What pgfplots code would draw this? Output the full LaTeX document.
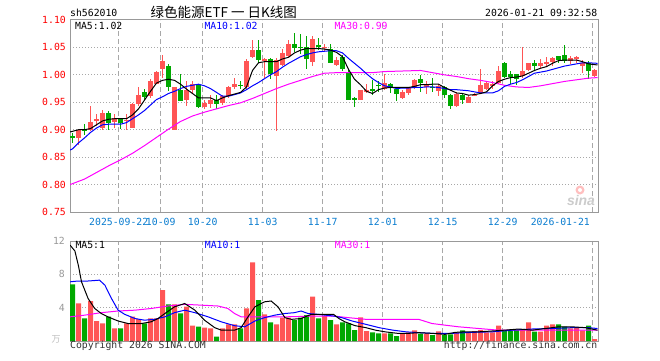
\documentclass[border=0pt]{standalone}
\usepackage{pgfplots}
\pgfplotsset{compat=1.18}
\usepackage{pgfplotstable}
\usepackage{fontspec}
\setmonofont{DejaVu Sans Mono}
\newfontfamily\cjk{Noto Sans CJK SC}
\newfontfamily\sinafont{Liberation Sans}
\definecolor{cred}{HTML}{FF5555}
\definecolor{cgreen}{HTML}{00A800}
\definecolor{cblue}{HTML}{0000FF}
\definecolor{cmag}{HTML}{FF00FF}
\definecolor{cframe}{HTML}{999999}
\definecolor{cgrid}{HTML}{A8A8A8}
\definecolor{cdate}{HTML}{0A7DD0}
\definecolor{cprice}{HTML}{FF0000}
\definecolor{ctext}{HTML}{333333}
\newcommand\mono{\ttfamily\fontsize{9.8bp}{11bp}\selectfont}

% up (red) candles: index, open, high, low, close, volume
\pgfplotstableread{
i O H L C V
1 0.884 0.901 0.873 0.900 4.52
3 0.900 0.943 0.897 0.914 4.8
4 0.917 0.929 0.906 0.919 2.4
5 0.904 0.936 0.900 0.930 2.12
7 0.914 0.928 0.903 0.921 1.52
9 0.916 0.928 0.899 0.918 2.12
10 0.904 0.949 0.903 0.946 2.92
11 0.946 0.977 0.943 0.964 2.64
13 0.961 0.992 0.958 0.989 2.72
14 0.984 1.007 0.983 1.005 2.72
15 1.011 1.037 0.995 1.025 6.12
17 0.900 0.978 0.899 0.977 4.4
19 0.955 0.989 0.943 0.973 4.12
20 0.973 0.989 0.967 0.984 1.84
22 0.941 0.955 0.937 0.949 1.6
23 0.947 0.964 0.939 0.955 1.52
25 0.948 0.964 0.945 0.961 1.52
26 0.961 0.980 0.958 0.977 2.0
27 0.977 0.995 0.974 0.983 2.0
29 0.978 1.028 0.975 1.026 3.92
30 1.033 1.063 1.030 1.045 9.44
32 1.026 1.031 0.995 1.029 3.2
34 0.998 1.030 0.898 1.027 2.0
35 1.018 1.047 1.016 1.039 2.8
36 1.035 1.063 1.032 1.056 2.8
40 1.024 1.071 1.016 1.065 5.32
42 1.049 1.056 1.044 1.051 3.04
44 1.018 1.032 1.016 1.027 2.0
48 0.955 0.973 0.954 0.972 2.84
49 0.969 0.983 0.967 0.973 1.2
52 0.975 1.002 0.973 0.986 0.92
55 0.957 0.972 0.956 0.969 0.92
56 0.967 0.978 0.964 0.977 1.04
57 0.977 0.992 0.974 0.990 1.28
59 0.977 0.988 0.966 0.981 0.88
61 0.970 0.983 0.961 0.980 1.16
64 0.943 0.968 0.941 0.966 1.04
66 0.949 0.963 0.948 0.959 1.04
67 0.962 0.967 0.961 0.964 1.2
68 0.967 1.010 0.965 0.982 1.32
69 0.975 0.989 0.973 0.986 1.04
70 0.981 0.989 0.974 0.983 1.04
71 0.986 1.016 0.984 1.007 1.84
75 0.998 1.051 0.995 1.007 1.44
76 1.008 1.022 1.007 1.021 2.24
78 1.016 1.029 1.013 1.022 1.12
79 1.019 1.032 1.016 1.024 1.84
80 1.024 1.033 1.016 1.030 2.0
83 1.026 1.035 1.019 1.030 1.52
84 1.029 1.035 1.022 1.033 1.6
85 1.016 1.027 1.004 1.022 1.28
87 0.998 1.010 0.996 1.008 0.24
}\upTab

% down (green) candles
\pgfplotstableread{
i O H L C V
0 0.888 0.894 0.876 0.885 6.8
2 0.901 0.910 0.891 0.899 2.72
6 0.930 0.934 0.900 0.912 2.92
8 0.920 0.922 0.902 0.913 1.52
12 0.969 0.974 0.955 0.960 2.12
16 1.016 1.019 0.970 0.978 4.4
18 0.973 1.001 0.952 0.953 3.32
21 0.981 0.984 0.939 0.941 1.72
24 0.955 0.963 0.937 0.946 0.52
28 0.982 0.988 0.974 0.980 1.52
31 1.045 1.063 1.022 1.027 4.92
33 1.029 1.031 0.992 1.001 2.24
37 1.056 1.077 1.041 1.049 2.52
38 1.051 1.075 1.038 1.049 2.8
39 1.050 1.070 1.010 1.029 3.12
41 1.054 1.067 1.045 1.052 2.72
43 1.047 1.056 1.021 1.022 2.52
45 1.033 1.036 1.007 1.010 2.24
46 1.004 1.008 0.954 0.955 2.12
47 0.958 0.959 0.941 0.954 1.32
50 0.974 0.990 0.964 0.972 1.04
51 0.982 0.989 0.969 0.980 0.92
53 0.983 0.986 0.967 0.977 0.92
54 0.975 0.977 0.953 0.966 0.6
58 0.992 1.000 0.969 0.986 0.88
60 0.978 0.995 0.969 0.976 0.72
62 0.977 0.980 0.958 0.963 0.72
63 0.963 0.966 0.937 0.943 0.8
65 0.964 0.966 0.946 0.955 1.28
72 1.021 1.023 0.994 0.996 1.2
73 1.001 1.007 0.984 0.997 1.2
74 1.001 1.002 0.981 0.992 1.32
77 1.021 1.027 1.007 1.016 1.12
81 1.035 1.035 1.021 1.027 2.0
82 1.036 1.055 1.022 1.026 1.72
86 1.022 1.025 0.992 1.007 1.84
}\downTab

\pgfplotsset{
  kbase/.style={
    scale only axis, width=528bp, xmin=-0.417, xmax=87.583,
    axis line style={draw=cframe, line width=1bp},
    tick style={draw=none}, major tick length=0pt,
    xmajorgrids, ymajorgrids,
    x grid style={draw=cgrid, line width=1bp, dash pattern=on 5bp off 3bp},
    y grid style={draw=cgrid, line width=1bp, dash pattern=on 1bp off 2bp},
  },
  wick/.style={draw=none, mark=none, forget plot,
    error bars/.cd, y dir=both, y explicit, error mark=none,
    error bar style={draw=#1, line width=1bp}},
  body/.style={draw=none, mark=none, forget plot,
    error bars/.cd, y dir=both, y explicit, error mark=none,
    error bar style={draw=#1, line width=4.7bp}},
}

\begin{document}
\begin{tikzpicture}[x=1bp,y=1bp]
\useasboundingbox (0,0) rectangle (660,360);
\fill[white] (0,0) rectangle (660,360);

% ---------- price panel ----------
\begin{axis}[kbase, at={(70bp,148bp)}, anchor=south west, height=192bp,
  ymin=0.75, ymax=1.10,
  ytick={0.75,0.80,0.85,0.90,0.95,1.00,1.05,1.10},
  yticklabels={0.75,0.80,0.85,0.90,0.95,1.00,1.05,1.10},
  yticklabel style={font=\mono, text=cprice, anchor=east, inner sep=0pt, xshift=-4bp},
  xtick={7.7,14.7,21.7,31.7,41.7,51.7,61.7,71.7},
  xticklabels={2025-09-22,10-09,10-20,11-03,11-17,12-01,12-15,12-29},
  xticklabel style={font=\mono, text=cdate, anchor=north, inner sep=0pt, yshift=-6bp},
  extra x ticks={86.7}, extra x tick labels={2026-01-21},
  extra x tick style={xticklabel style={anchor=north east, xshift=-2.7bp}},
]
\addplot[wick=cred] table[x=i, y expr={(\thisrow{H}+\thisrow{L})/2}, y error expr={(\thisrow{H}-\thisrow{L})/2}] {\upTab};
\addplot[wick=cgreen] table[x=i, y expr={(\thisrow{H}+\thisrow{L})/2}, y error expr={(\thisrow{H}-\thisrow{L})/2}] {\downTab};
\addplot[body=cred] table[x=i, y expr={(\thisrow{O}+\thisrow{C})/2}, y error expr={max(abs(\thisrow{C}-\thisrow{O})/2,0.0009)}] {\upTab};
\addplot[body=cgreen] table[x=i, y expr={(\thisrow{O}+\thisrow{C})/2}, y error expr={max(abs(\thisrow{C}-\thisrow{O})/2,0.0009)}] {\downTab};
% MA30
\addplot[cmag, line width=1bp] coordinates {(-0.4,0.800)(2,0.810)(4,0.822)(6,0.834)(8,0.845)(10,0.857)(12,0.871)(14,0.886)(16,0.901)(18,0.915)(20,0.925)(22,0.932)(24,0.938)(26,0.944)(28,0.949)(30,0.957)(32,0.966)(34,0.975)(36,0.983)(38,0.990)(40,0.997)(42,1.003)(44,1.004)(50,1.004)(52,1.006)(58,1.008)(60,1.004)(62,1.000)(64,0.997)(66,0.993)(68,0.990)(70,0.986)(72,0.981)(74,0.978)(76,0.977)(78,0.980)(80,0.984)(82,0.988)(84,0.991)(86,0.994)(87.5,0.995)};
% MA10
\addplot[cblue, line width=1bp] coordinates {(-0.4,0.863)(0,0.865)(1,0.876)(2,0.885)(3,0.895)(4,0.903)(5,0.909)(6,0.910)(7,0.910)(8,0.910)(9,0.913)(10,0.920)(11,0.927)(12,0.935)(13,0.945)(14,0.955)(15,0.960)(16,0.966)(17,0.970)(18,0.975)(19,0.979)(20,0.981)(21,0.983)(22,0.980)(23,0.975)(24,0.968)(25,0.961)(26,0.961)(27,0.964)(28,0.967)(29,0.973)(30,0.980)(31,0.986)(32,0.993)(33,1.000)(34,1.006)(35,1.014)(36,1.021)(37,1.027)(38,1.033)(39,1.037)(40,1.040)(41,1.042)(42,1.043)(43,1.044)(44,1.044)(45,1.040)(46,1.030)(47,1.021)(48,1.012)(49,1.002)(50,0.993)(51,0.986)(52,0.980)(53,0.978)(54,0.975)(55,0.976)(56,0.976)(57,0.977)(58,0.977)(59,0.978)(60,0.978)(61,0.977)(62,0.975)(63,0.973)(64,0.973)(65,0.972)(66,0.971)(67,0.969)(68,0.967)(69,0.967)(70,0.967)(71,0.971)(72,0.979)(73,0.983)(74,0.986)(75,0.991)(76,0.997)(77,1.003)(78,1.005)(79,1.007)(80,1.010)(81,1.013)(82,1.016)(83,1.018)(84,1.020)(85,1.022)(86,1.022)(87.5,1.021)};
% MA5
\addplot[black, line width=1bp] coordinates {(-0.4,0.896)(0,0.897)(1,0.900)(2,0.900)(3,0.902)(4,0.909)(5,0.916)(6,0.919)(7,0.920)(8,0.920)(9,0.920)(10,0.927)(11,0.938)(12,0.954)(13,0.970)(14,0.985)(15,0.990)(16,0.992)(17,0.990)(18,0.983)(19,0.974)(20,0.966)(21,0.958)(22,0.958)(23,0.958)(24,0.953)(25,0.958)(26,0.962)(27,0.965)(28,0.968)(29,0.978)(30,1.008)(31,1.022)(32,1.024)(33,1.024)(34,1.024)(35,1.029)(36,1.032)(37,1.040)(38,1.045)(39,1.048)(40,1.048)(41,1.048)(42,1.047)(43,1.045)(44,1.041)(45,1.033)(46,1.010)(47,0.992)(48,0.982)(49,0.970)(50,0.966)(51,0.973)(52,0.976)(53,0.977)(54,0.977)(55,0.977)(56,0.977)(57,0.979)(58,0.982)(59,0.982)(60,0.983)(61,0.983)(62,0.977)(63,0.972)(64,0.967)(65,0.966)(66,0.963)(67,0.964)(68,0.966)(69,0.969)(70,0.980)(71,0.988)(72,0.992)(73,0.995)(74,0.996)(75,0.998)(76,1.003)(77,1.008)(78,1.012)(79,1.015)(80,1.021)(81,1.026)(82,1.027)(83,1.027)(84,1.027)(85,1.024)(86,1.020)(87.5,1.018)};
\end{axis}

% ---------- volume panel ----------
\begin{axis}[kbase, at={(70bp,19bp)}, anchor=south west, height=100bp,
  ymin=0, ymax=12, ytick={4,8,12}, yticklabels={4,8,12},
  yticklabel style={font=\mono, text=cframe, anchor=east, inner sep=0pt, xshift=-5bp},
  xtick={7.7,14.7,21.7,31.7,41.7,51.7,61.7,71.7,86.7}, xticklabels={},
]
\addplot[ybar, bar width=5bp, bar shift=0pt, fill=cred, draw=none] table[x=i, y=V] {\upTab};
\addplot[ybar, bar width=5bp, bar shift=0pt, fill=cgreen, draw=none] table[x=i, y=V] {\downTab};
\addplot[cmag, line width=1bp] coordinates {(-0.4,2.9)(2,3.1)(4.8,3.4)(7.6,3.6)(10.4,3.7)(13.1,3.9)(15.9,4.2)(18.7,4.4)(21.5,4.3)(24.25,4.2)(25.9,3.9)(27,3.3)(28.1,2.9)(30.4,2.9)(35.4,2.9)(40.9,3.0)(43.5,3.0)(46,2.8)(48.9,2.6)(57.7,2.6)(59.9,2.1)(62.1,1.9)(64.4,1.7)(67.7,1.5)(71,1.3)(87.5,1.3)};
\addplot[cblue, line width=1bp] coordinates {(-0.4,7.1)(0.9,7.2)(2.6,7.2)(4.5,7.3)(5.4,6.7)(6.5,5.1)(7.6,3.7)(8.7,3.2)(10.4,2.7)(12,2.5)(13.7,2.6)(15.4,2.9)(17,3.4)(18.7,3.7)(20.4,3.4)(22.6,2.9)(24.8,2.3)(27,1.84)(28.7,1.7)(30.4,2.4)(32,2.8)(33.7,3.1)(35.4,3.3)(37,3.4)(38.1,3.6)(39.25,3.3)(40.9,3.2)(43.5,3.0)(44.9,2.8)(46.6,2.4)(48.9,2.0)(51.1,1.6)(53.4,1.3)(55.6,1.1)(57.7,1.0)(59.9,0.92)(63.25,0.92)(66.6,1.04)(69.9,1.1)(73.3,1.3)(76.6,1.44)(79.9,1.5)(83.25,1.6)(86,1.6)(87.5,1.5)};
\addplot[black, line width=1bp] coordinates {(-0.4,11.5)(0.4,10.8)(1.0,9.0)(1.5,7.1)(2.6,5.1)(3.7,3.9)(4.8,3.3)(5.9,2.9)(7.6,2.4)(9.25,2.1)(11.5,2.1)(13.1,2.3)(14.25,2.7)(15.4,3.3)(17,4.1)(18.7,4.5)(20.4,3.7)(22,2.5)(23.7,1.6)(24.8,1.3)(27,1.3)(28.1,1.6)(29.25,2.9)(30.4,4.1)(32,4.7)(33.1,4.8)(34.25,4.1)(35.4,2.8)(36.5,2.6)(38.1,2.7)(39.8,3.2)(41.5,3.2)(43.5,3.2)(44.4,2.7)(45.4,2.3)(47.1,1.84)(48.9,1.6)(50.5,1.3)(52.1,1.1)(54.4,0.9)(56,0.92)(57.7,1.0)(59.9,0.92)(62.1,0.8)(63.8,1.04)(65.5,1.1)(67.7,1.1)(69.9,1.2)(72,1.3)(74.4,1.44)(76.6,1.3)(78.8,1.5)(81,1.7)(83.25,1.7)(85.5,1.6)(87.5,1.3)};
\end{axis}

% ---------- texts ----------
\node[anchor=west, inner sep=0pt, text=black] at (70,347) {\mono sh562010};
\node[anchor=west, inner sep=0pt, text=black] at (150.5,347.5) {\cjk\fontsize{13.5bp}{15bp}\selectfont 绿色能源ETF 一 日K线图};
\node[anchor=east, inner sep=0pt, text=black] at (597.5,347) {\mono 2026-01-21 09:32:58};
\node[anchor=west, inner sep=0pt, text=black] at (75,334.2) {\mono MA5:1.02};
\node[anchor=west, inner sep=0pt, text=cblue] at (204.3,334.2) {\mono MA10:1.02};
\node[anchor=west, inner sep=0pt, text=cmag] at (334.3,334.2) {\mono MA30:0.99};
\node[anchor=west, inner sep=0pt, text=black] at (75.3,114.7) {\mono MA5:1};
\node[anchor=west, inner sep=0pt, text=cblue] at (204.7,114.7) {\mono MA10:1};
\node[anchor=west, inner sep=0pt, text=cmag] at (334.7,114.7) {\mono MA30:1};
\node[anchor=west, inner sep=0pt, text=ctext] at (70,14) {\mono Copyright 2026 SINA.COM};
\node[anchor=east, inner sep=0pt, text=ctext] at (597.5,14) {\mono http://finance.sina.com.cn};
\node[inner sep=0pt, text=black!25] at (56,21) {\cjk\fontsize{9bp}{10bp}\selectfont 万};
% sina watermark
\fill[red!25] (580,170) circle (4.5);
\fill[white] (580,170) circle (2);
\node[inner sep=0pt, text=black!20] at (581,160) {\sinafont\bfseries\itshape\fontsize{14bp}{15bp}\selectfont sina};
\end{tikzpicture}
\end{document}
